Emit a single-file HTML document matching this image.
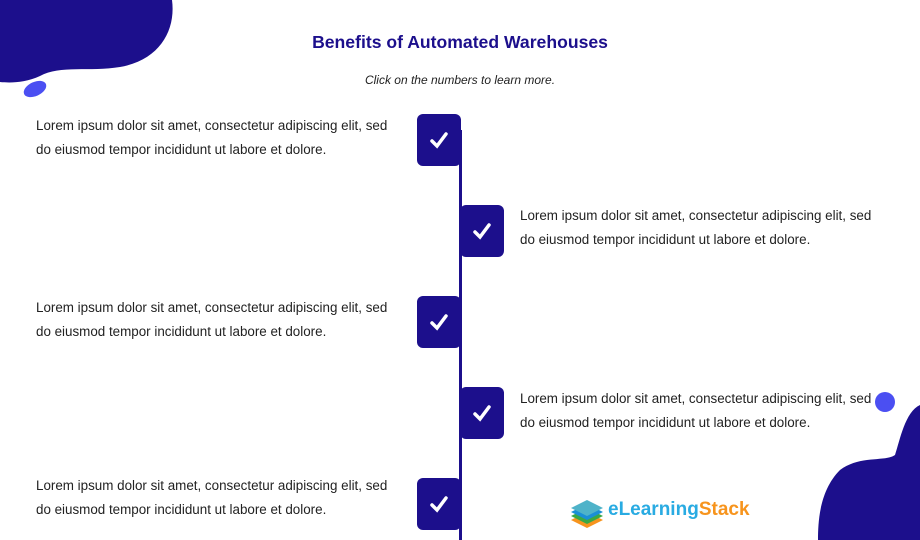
<!DOCTYPE html>
<html><head><style>
body{margin:0;width:920px;height:540px;position:relative;overflow:hidden;background:#fff;font-family:"Liberation Sans",Arial,sans-serif;}
.t{position:absolute;font-size:13.4px;line-height:24px;color:#222;white-space:nowrap}
.b{position:absolute;width:44px;height:52px;background:#1c0f8c;border-radius:6px;}
.b svg{position:absolute;left:12px;top:16px}
</style></head><body>
<svg width="920" height="540" style="position:absolute;left:0;top:0">
<path d="M0 0 L172 0 C176 30 160 60 120 67 C90 72 60 65 40 76 C25 83 10 83 0 82 Z" fill="#1c0f8c"/>
<ellipse cx="35" cy="89" rx="12" ry="7" transform="rotate(-25 35 89)" fill="#4b4ff2"/>
<path d="M920 405 C905 412 900 440 895 455 C885 462 860 455 840 470 C820 490 818 520 818 540 L920 540 Z" fill="#1c0f8c"/>
<circle cx="885" cy="402" r="10" fill="#4b4ff2"/>
<rect x="459" y="130" width="3" height="410" fill="#1c0f8c"/>
</svg>
<div style="position:absolute;left:0;width:920px;top:32px;text-align:center;font-weight:bold;font-size:17.6px;color:#1c0f8c">Benefits of Automated Warehouses</div>
<div style="position:absolute;left:0;width:920px;top:73px;text-align:center;font-style:italic;font-size:12px;color:#222">Click on the numbers to learn more.</div>

<div class="t" style="left:36px;top:114px">Lorem ipsum dolor sit amet, consectetur adipiscing elit, sed<br>do eiusmod tempor incididunt ut labore et dolore.</div>
<div class="t" style="left:520px;top:204px">Lorem ipsum dolor sit amet, consectetur adipiscing elit, sed<br>do eiusmod tempor incididunt ut labore et dolore.</div>
<div class="t" style="left:36px;top:296px">Lorem ipsum dolor sit amet, consectetur adipiscing elit, sed<br>do eiusmod tempor incididunt ut labore et dolore.</div>
<div class="t" style="left:520px;top:387px">Lorem ipsum dolor sit amet, consectetur adipiscing elit, sed<br>do eiusmod tempor incididunt ut labore et dolore.</div>
<div class="t" style="left:36px;top:474px">Lorem ipsum dolor sit amet, consectetur adipiscing elit, sed<br>do eiusmod tempor incididunt ut labore et dolore.</div>

<div class="b" style="left:417px;top:114px"><svg width="20" height="20"><path d="M3 11 L8 16 L17 4" stroke="#fff" stroke-width="3.5" fill="none" stroke-linecap="round"/></svg></div>
<div class="b" style="left:460px;top:205px"><svg width="20" height="20"><path d="M3 11 L8 16 L17 4" stroke="#fff" stroke-width="3.5" fill="none" stroke-linecap="round"/></svg></div>
<div class="b" style="left:417px;top:296px"><svg width="20" height="20"><path d="M3 11 L8 16 L17 4" stroke="#fff" stroke-width="3.5" fill="none" stroke-linecap="round"/></svg></div>
<div class="b" style="left:460px;top:387px"><svg width="20" height="20"><path d="M3 11 L8 16 L17 4" stroke="#fff" stroke-width="3.5" fill="none" stroke-linecap="round"/></svg></div>
<div class="b" style="left:417px;top:478px"><svg width="20" height="20"><path d="M3 11 L8 16 L17 4" stroke="#fff" stroke-width="3.5" fill="none" stroke-linecap="round"/></svg></div>

<svg width="36" height="34" style="position:absolute;left:569px;top:496px">
<path d="M2 24 L18 32 L34 24 L18 16 Z" fill="#f7941d"/>
<path d="M2 20 L18 28 L34 20 L18 12 Z" fill="#3aa845"/>
<path d="M2 16 L18 24 L34 16 L18 8 Z" fill="#1b8fd6"/>
<path d="M2 12 L18 20 L34 12 L18 4 Z" fill="#4fb3c9"/>
</svg>
<div style="position:absolute;left:608px;top:499px;font-weight:bold;font-size:19px;"><span style="color:#29abe2">eLearning</span><span style="color:#f7941d">Stack</span></div>
</body></html>
